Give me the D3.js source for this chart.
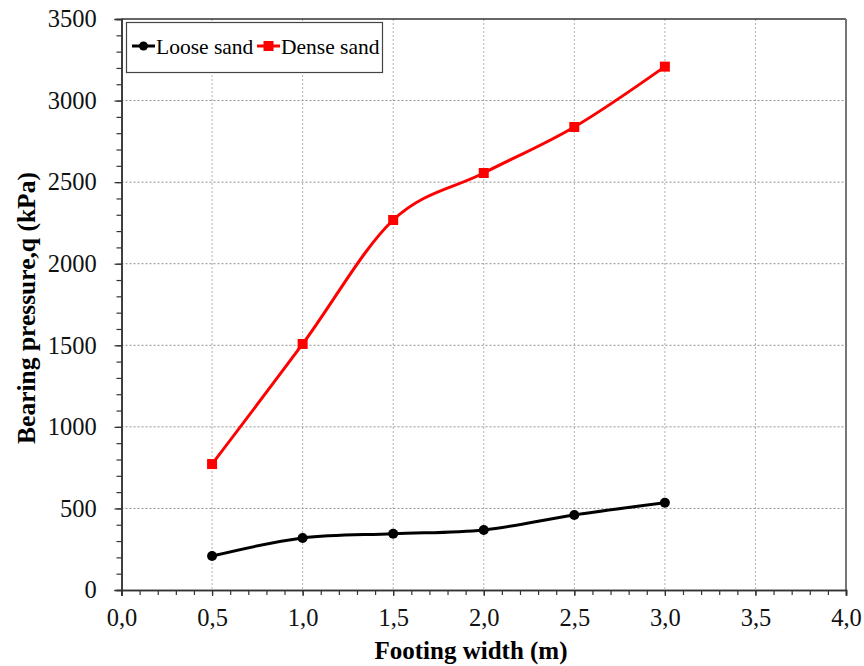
<!DOCTYPE html>
<html>
<head>
<meta charset="utf-8">
<script src="https://cdn.jsdelivr.net/npm/d3@7"></script>
<style>
  body { margin: 0; background: #fff; }
  text { font-family: "Liberation Serif", "Times New Roman", serif; }
</style>
</head>
<body>
<script>
// footing widths (m)
const widths = [0.5, 1.0, 1.5, 2.0, 2.5, 3.0]
// bearing pressure (kPa)
const looseSand = [208, 319, 345, 368, 460, 535]
const denseSand = [772, 1508, 2268, 2556, 2838, 3208]
const xTicks = [0, 0.5, 1, 1.5, 2, 2.5, 3, 3.5, 4]
const yTicks = [0, 500, 1000, 1500, 2000, 2500, 3000, 3500]

const W = 864, H = 666
const plotL = 121.5, plotR = 846, plotT = 19, plotB = 590

const svg = d3.select('body').append('svg')
  .attr('width', W)
  .attr('height', H)

const x = d3.scaleLinear().domain([0, 4]).range([plotL, plotR])
const y = d3.scaleLinear().domain([0, 3500]).range([plotB, plotT])

// grid
svg.append('g')
  .selectAll('line')
  .data(xTicks.slice(1, -1))
  .enter()
  .append('line')
  .attr('x1', d => x(d)).attr('x2', d => x(d))
  .attr('y1', plotT).attr('y2', plotB)
  .attr('stroke', '#b0b0b0')
  .attr('stroke-dasharray', '2,2')
svg.append('g')
  .selectAll('line')
  .data(yTicks.slice(1, -1))
  .enter()
  .append('line')
  .attr('x1', plotL).attr('x2', plotR)
  .attr('y1', d => y(d)).attr('y2', d => y(d))
  .attr('stroke', '#909090')
  .attr('stroke-dasharray', '2,2')

// frame top / right
svg.append('line')
  .attr('x1', plotL).attr('x2', plotR).attr('y1', plotT).attr('y2', plotT)
  .attr('stroke', '#333').attr('stroke-width', 1.5)
svg.append('line')
  .attr('x1', plotR).attr('x2', plotR).attr('y1', plotT).attr('y2', plotB)
  .attr('stroke', '#777').attr('stroke-width', 2)

// axes
const xAxis = svg.append('g')
  .attr('transform', `translate(0,${plotB})`)
  .call(d3.axisBottom(x).tickValues(d3.range(0, 4.01, 0.1)).tickSize(5).tickFormat(''))
xAxis.append('g')
  .call(d3.axisBottom(x).tickValues(xTicks).tickSize(6)
    .tickFormat(d => d3.format('.1f')(d).replace('.', ',')))
const yAxis = svg.append('g')
  .attr('transform', `translate(${plotL},0)`)
  .call(d3.axisLeft(y).tickValues(d3.range(0, 3501, 100)).tickSize(5).tickFormat(''))
yAxis.append('g')
  .call(d3.axisLeft(y).tickValues(yTicks).tickSize(7).tickFormat(d => d))

svg.selectAll('.domain').attr('stroke', '#333').attr('stroke-width', 1.5)
svg.selectAll('.tick line').attr('stroke', '#333').attr('stroke-width', 1.2)
svg.selectAll('.tick text')
  .style('font-family', '"Liberation Serif", serif')
  .attr('font-size', 24.5)
  .attr('fill', '#111')
xAxis.selectAll('.tick text').attr('dy', '1.1em')
yAxis.selectAll('.tick text').attr('dx', '-0.6em')

// axis titles
svg.append('text')
  .attr('x', 471).attr('y', 659)
  .attr('text-anchor', 'middle')
  .attr('font-size', 25).attr('font-weight', 'bold')
  .text('Footing width (m)')
svg.append('text')
  .attr('transform', 'translate(35,308) rotate(-90)')
  .attr('text-anchor', 'middle')
  .attr('font-size', 25.5).attr('font-weight', 'bold')
  .text('Bearing pressure,q (kPa)')

// series
const line = d3.line()
  .x(d => x(d[0]))
  .y(d => y(d[1]))
  .curve(d3.curveCatmullRom.alpha(0))

const loosePts = widths.map((w, i) => [w, looseSand[i]])
const densePts = widths.map((w, i) => [w, denseSand[i]])

svg.append('path').datum(loosePts)
  .attr('d', line).attr('fill', 'none')
  .attr('stroke', '#000').attr('stroke-width', 3)
svg.append('g').selectAll('circle')
  .data(loosePts).enter().append('circle')
  .attr('cx', d => x(d[0])).attr('cy', d => y(d[1]))
  .attr('r', 5).attr('fill', '#000')

svg.append('path').datum(densePts)
  .attr('d', line).attr('fill', 'none')
  .attr('stroke', '#ff0000').attr('stroke-width', 3)
svg.append('g').selectAll('rect')
  .data(densePts).enter().append('rect')
  .attr('x', d => x(d[0]) - 5).attr('y', d => y(d[1]) - 5)
  .attr('width', 10).attr('height', 10).attr('fill', '#ff0000')

// legend
const lg = svg.append('g')
lg.append('rect')
  .attr('x', 126.5).attr('y', 22.5).attr('width', 256).attr('height', 50)
  .attr('fill', '#fff').attr('stroke', '#444').attr('stroke-width', 1.2)
lg.append('line').attr('x1', 132).attr('x2', 155).attr('y1', 46).attr('y2', 46)
  .attr('stroke', '#000').attr('stroke-width', 3)
lg.append('circle').attr('cx', 143.5).attr('cy', 46).attr('r', 4.5).attr('fill', '#000')
lg.append('text').attr('x', 156).attr('y', 53.5).attr('font-size', 21.5).text('Loose sand')
lg.append('line').attr('x1', 257).attr('x2', 280).attr('y1', 46).attr('y2', 46)
  .attr('stroke', '#ff0000').attr('stroke-width', 3)
lg.append('rect').attr('x', 263.5).attr('y', 41).attr('width', 10).attr('height', 10).attr('fill', '#ff0000')
lg.append('text').attr('x', 281).attr('y', 53.5).attr('font-size', 21.5).text('Dense sand')
</script>
</body>
</html>
